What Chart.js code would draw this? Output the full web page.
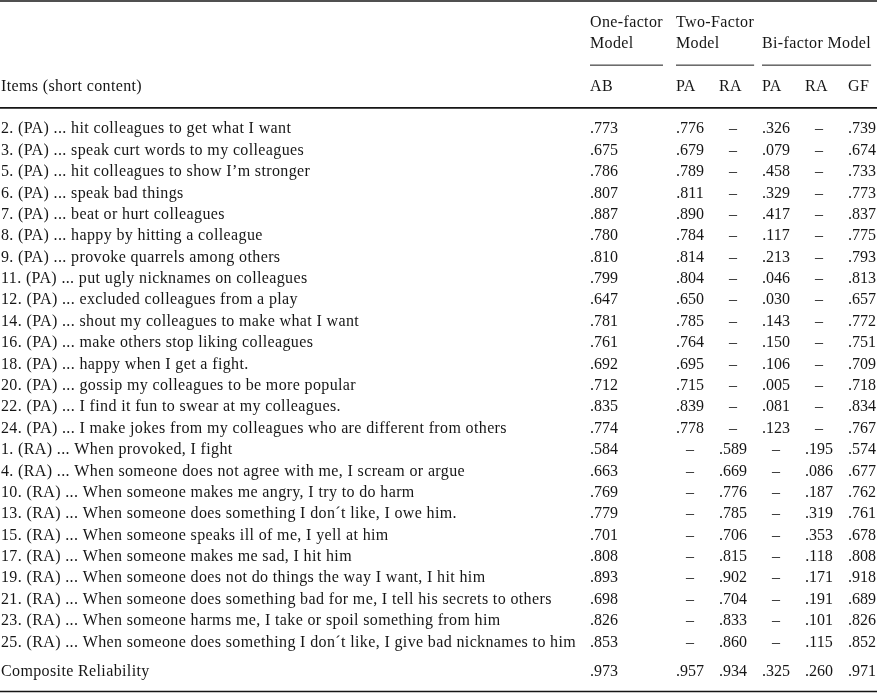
<!DOCTYPE html>
<html>
<head>
<meta charset="utf-8">
<script src="https://cdn.jsdelivr.net/npm/chart.js@4"></script>
<style>
  body { margin: 0; background: #fff; }
  #wrap { width: 877px; height: 694px; }
</style>
</head>
<body>
<div id="wrap"><canvas id="tableChart" width="877" height="694"></canvas></div>
<script>
// item rows
const items = [
    "2. (PA) ... hit colleagues to get what I want",
    "3. (PA) ... speak curt words to my colleagues",
    "5. (PA) ... hit colleagues to show I’m stronger",
    "6. (PA) ... speak bad things",
    "7. (PA) ... beat or hurt colleagues",
    "8. (PA) ... happy by hitting a colleague",
    "9. (PA) ... provoke quarrels among others",
    "11. (PA) ... put ugly nicknames on colleagues",
    "12. (PA) ... excluded colleagues from a play",
    "14. (PA) ... shout my colleagues to make what I want",
    "16. (PA) ... make others stop liking colleagues",
    "18. (PA) ... happy when I get a fight.",
    "20. (PA) ... gossip my colleagues to be more popular",
    "22. (PA) ... I find it fun to swear at my colleagues.",
    "24. (PA) ... I make jokes from my colleagues who are different from others",
    "1. (RA) ... When provoked, I fight",
    "4. (RA) ... When someone does not agree with me, I scream or argue",
    "10. (RA) ... When someone makes me angry, I try to do harm",
    "13. (RA) ... When someone does something I don´t like, I owe him.",
    "15. (RA) ... When someone speaks ill of me, I yell at him",
    "17. (RA) ... When someone makes me sad, I hit him",
    "19. (RA) ... When someone does not do things the way I want, I hit him",
    "21. (RA) ... When someone does something bad for me, I tell his secrets to others",
    "23. (RA) ... When someone harms me, I take or spoil something from him",
    "25. (RA) ... When someone does something I don´t like, I give bad nicknames to him"
];

// loadings (null = "–")
const oneFactorAB = [.773, .675, .786, .807, .887, .780, .810, .799, .647, .781, .761, .692, .712, .835, .774,
    .584, .663, .769, .779, .701, .808, .893, .698, .826, .853];
const twoFactorPA = [.776, .679, .789, .811, .890, .784, .814, .804, .650, .785, .764, .695, .715, .839, .778,
    null, null, null, null, null, null, null, null, null, null];
const twoFactorRA = [null, null, null, null, null, null, null, null, null, null, null, null, null, null, null,
    .589, .669, .776, .785, .706, .815, .902, .704, .833, .860];
const biFactorPA = [.326, .079, .458, .329, .417, .117, .213, .046, .030, .143, .150, .106, .005, .081, .123,
    null, null, null, null, null, null, null, null, null, null];
const biFactorRA = [null, null, null, null, null, null, null, null, null, null, null, null, null, null, null,
    .195, .086, .187, .319, .353, .118, .171, .191, .101, .115];
const biFactorGF = [.739, .674, .733, .773, .837, .775, .793, .813, .657, .772, .751, .709, .718, .834, .767,
    .574, .677, .762, .761, .678, .808, .918, .689, .826, .852];

const compositeLabel = "Composite Reliability";
const compositeReliability = [.973, .957, .934, .325, .260, .971];

// column slots on the x axis ('' is the spacer after the one-factor column)
const columnKeys = ["AB", "", "PA", "RA", "PA", "RA", "GF"];
const columnData = [oneFactorAB, null, twoFactorPA, twoFactorRA, biFactorPA, biFactorRA, biFactorGF];
const groupTitles = [["One-factor", "Model"], ["Two-Factor", "Model"], ["Bi-factor Model"]];
const groupStartCols = [0, 2, 4];
const itemsHeader = "Items (short content)";

const TEXT_FONT = '16px "Liberation Serif", "Times New Roman", serif';
const NUM_FONT = '16px "Liberation Serif", "Times New Roman", serif';
const INK = "#161616";

function fmt(v) {
    if (v === null || v === undefined) return "–";
    return v.toFixed(3).replace(/^0/, "");
}

const tablePlugin = {
    id: "tableText",
    afterDraw(chart) {
        const ctx = chart.ctx;
        const x = chart.scales.x;
        const y = chart.scales.y;
        ctx.save();
        ctx.fillStyle = INK;
        ctx.strokeStyle = INK;
        ctx.textBaseline = "middle";

        const textMode = () => { ctx.font = TEXT_FONT; ctx.letterSpacing = "0.37px"; ctx.textAlign = "left"; };
        const numMode = () => { ctx.font = NUM_FONT; ctx.letterSpacing = "0px"; ctx.textAlign = "center"; };

        // full-width rules
        const rule = (row, w) => {
            ctx.lineWidth = w;
            ctx.beginPath();
            ctx.moveTo(0, y.getPixelForValue(row));
            ctx.lineTo(chart.width, y.getPixelForValue(row));
            ctx.stroke();
        };
        rule(-6, 1.6);
        rule(-1, 1.6);
        rule(26.3, 1.6);

        numMode();
        const valW = ctx.measureText(".000").width;

        // group titles (bottom aligned) + short rules
        textMode();
        groupTitles.forEach((lines, g) => {
            const left = x.getPixelForValue(groupStartCols[g]) - valW / 2;
            let maxW = 0;
            lines.forEach((t, i) => {
                const row = -4 - (lines.length - 1 - i);
                ctx.fillText(t, left, y.getPixelForValue(row));
                maxW = Math.max(maxW, ctx.measureText(t).width);
            });
            const right = Math.min(chart.width, left + maxW);
            ctx.lineWidth = 1;
            ctx.beginPath();
            ctx.moveTo(left, y.getPixelForValue(-3));
            ctx.lineTo(right, y.getPixelForValue(-3));
            ctx.stroke();
        });

        // sub header row
        ctx.fillText(itemsHeader, 1, y.getPixelForValue(-2));
        columnKeys.forEach((k, c) => {
            if (k) ctx.fillText(k, x.getPixelForValue(c) - valW / 2, y.getPixelForValue(-2));
        });

        // body
        items.forEach((label, r) => {
            const py = y.getPixelForValue(r);
            textMode();
            ctx.fillText(label, 1, py);
            numMode();
            columnData.forEach((col, c) => {
                if (col) ctx.fillText(fmt(col[r]), x.getPixelForValue(c), py);
            });
        });

        // composite reliability
        const cy = y.getPixelForValue(25.4);
        textMode();
        ctx.fillText(compositeLabel, 1, cy);
        numMode();
        let k = 0;
        columnData.forEach((col, c) => {
            if (col) ctx.fillText(fmt(compositeReliability[k++]), x.getPixelForValue(c), cy);
        });
        ctx.restore();
    }
};

new Chart(document.getElementById("tableChart"), {
    type: "bar",
    data: { labels: columnKeys, datasets: [] },
    options: {
        responsive: false,
        animation: false,
        layout: { padding: { left: 604, right: 15, top: 1, bottom: 2.5 } },
        plugins: { legend: { display: false }, tooltip: { enabled: false } },
        scales: {
            x: { type: "category", offset: false, display: false },
            y: { type: "linear", reverse: true, min: -6, max: 26.3, display: false }
        }
    },
    plugins: [tablePlugin]
});
</script>
</body>
</html>
